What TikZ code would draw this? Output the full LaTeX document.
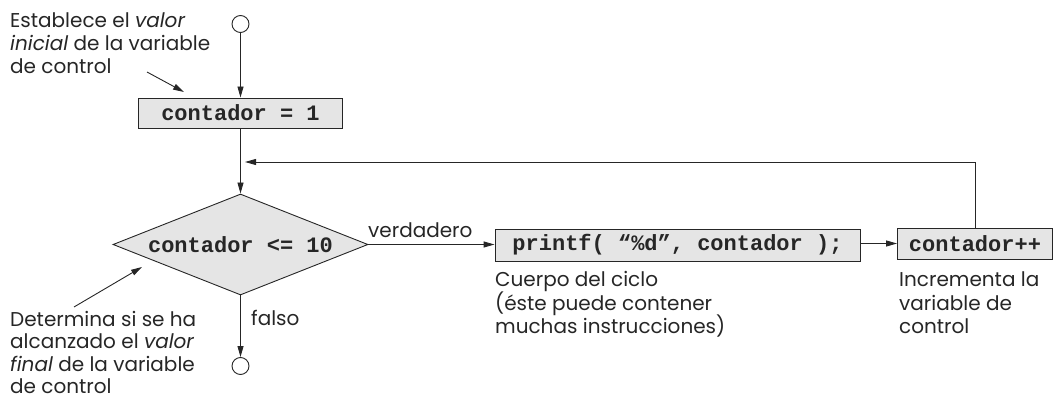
\documentclass[tikz,border=0pt]{standalone}
\usepackage{fontspec}
\setmainfont{Poppins}
\newfontfamily\codefont{Liberation Mono}
\usetikzlibrary{arrows.meta,shapes.geometric}
\begin{document}
\begin{tikzpicture}[x=1pt,y=-1pt,
  ln/.style={draw=black!85, line width=0.9pt},
  arr/.style={ln, -{Triangle[length=11pt,width=6pt]}},
  box/.style={draw=black!85, line width=0.9pt, fill=black!10, inner sep=0pt,
    font=\codefont\bfseries\fontsize{22}{24}\selectfont, text=black!85},
  lbl/.style={anchor=base west, inner sep=0pt, text=black!85,
    font=\fontsize{20}{22}\selectfont},
  term/.style={circle, draw=black!85, line width=0.9pt, minimum size=17pt, inner sep=0pt}]
\useasboundingbox (0,0) rectangle (1055,398);

% terminals
\node[term] (start) at (240.5,24) {};
\node[term] (stop) at (240.5,366) {};

% boxes
\node[box, minimum width=204pt, minimum height=30pt] (init) at (240.5,113) {contador = 1};
\node[box, diamond, minimum width=255pt, minimum height=101pt, aspect=2.5] (cond) at (240.5,244.5) {contador <= 10};
\node[box, minimum width=365pt, minimum height=32pt] (body) at (677.5,245) {printf( “\%d”, contador );};
\node[box, minimum width=155pt, minimum height=31pt] (inc) at (975,243.5) {contador++};

% connectors
\draw[arr] (start) -- (init);
\draw[arr] (init) -- (cond);
\draw[arr] (cond.east) -- (body.west |- cond.east);
\draw[arr] (body.east |- inc.west) -- (inc.west);
\coordinate (fbtop) at (975,162);
\coordinate (fbend) at (245,162);
\draw[arr] (inc.north) -- (fbtop) -- (fbend);
\draw[arr] (cond.south) -- (stop);

\node[lbl] (verd) at (368,237) {verdadero};
\node[lbl] (falso) at (251,325) {falso};

% annotations
\node[lbl] (a1) at (10,28) {Establece el \textit{valor}};
\node[lbl] (a2) at (10,51) {\textit{inicial} de la variable};
\node[lbl] (a3) at (10,74) {de control};
\coordinate (p1s) at (147,72);
\coordinate (p1e) at (184,92);
\draw[arr] (p1s) -- (p1e);

\node[lbl] (b1) at (10,326) {Determina si se ha};
\node[lbl] (b2) at (10,348) {alcanzado el \textit{valor}};
\node[lbl] (b3) at (10,371) {\textit{final} de la variable};
\node[lbl] (b4) at (10,393) {de control};
\coordinate (p2s) at (74,307);
\coordinate (p2e) at (142,267);
\draw[arr] (p2s) -- (p2e);

\node[lbl] (c1) at (495,286) {Cuerpo del ciclo};
\node[lbl] (c2) at (495,310) {(éste puede contener};
\node[lbl] (c3) at (495,333) {muchas instrucciones)};

\node[lbl] (d1) at (899,287) {Incrementa la};
\node[lbl] (d2) at (899,310) {variable de};
\node[lbl] (d3) at (899,333) {control};
\end{tikzpicture}
\end{document}
